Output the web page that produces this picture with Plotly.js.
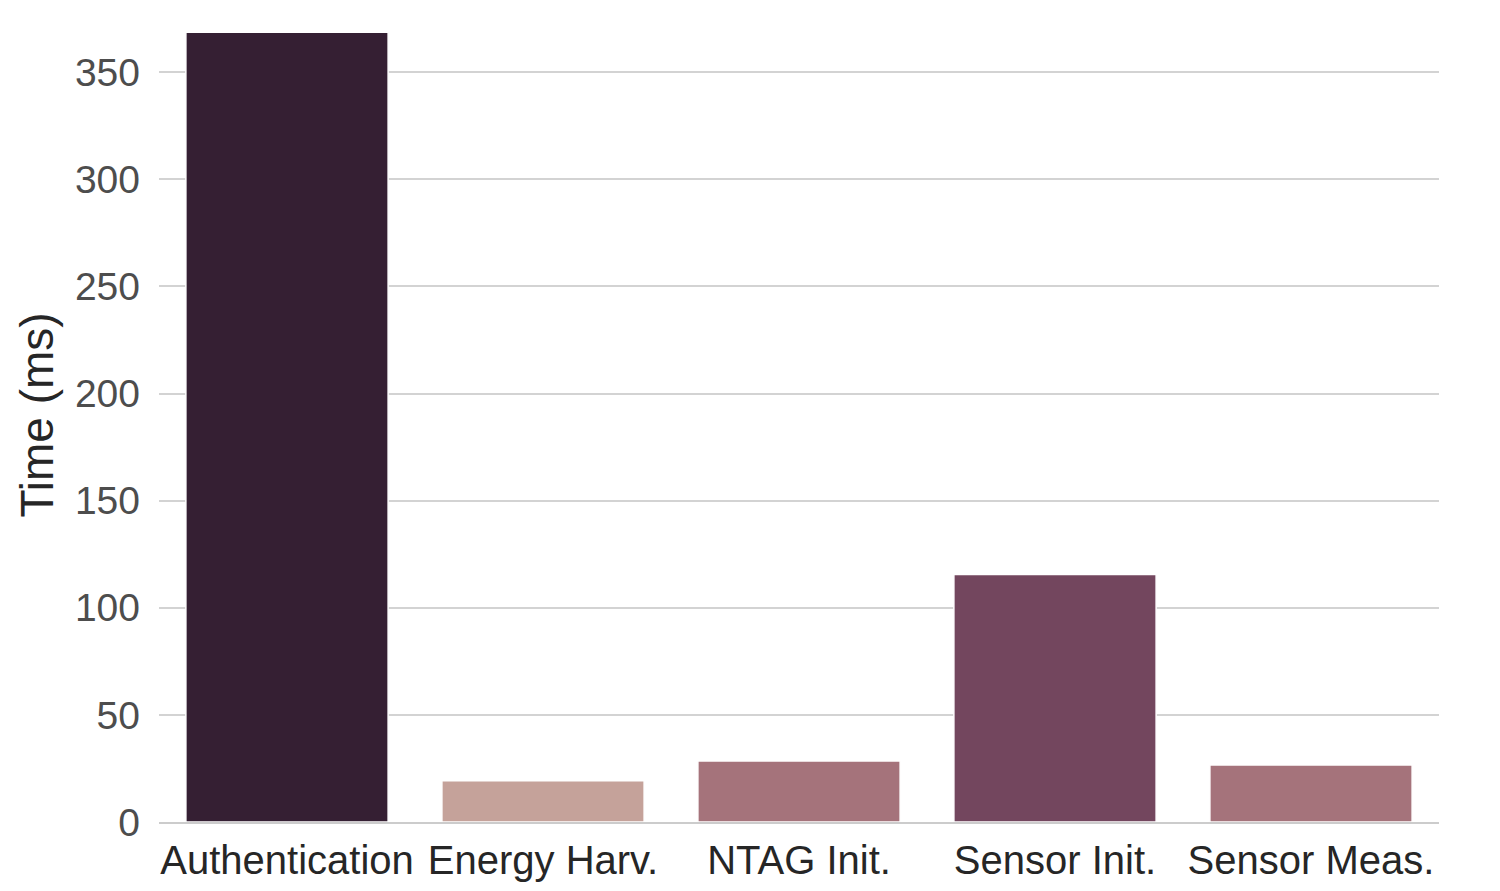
<!DOCTYPE html>
<html>
<head>
<meta charset="utf-8">
<script src="https://cdn.plot.ly/plotly-3.0.1.min.js"></script>
<style>
  html, body { margin: 0; padding: 0; background: #fff; }
  #plot { width: 1500px; height: 891px; }
</style>
</head>
<body>
<div id="plot"></div>
<script>
const stages = ['Authentication', 'Energy Harv.', 'NTAG Init.', 'Sensor Init.', 'Sensor Meas.'];
const timesMs = [368.7, 19.2, 28.5, 115.5, 26.6];
const barColors = ['#351f33', '#c5a29a', '#a5737b', '#73465e', '#a5737b'];
const yTicks = [0, 50, 100, 150, 200, 250, 300, 350];

const trace = {
    type: 'bar',
    x: stages,
    y: timesMs,
    width: 0.79,
    marker: { color: barColors, line: { color: '#ffffff', width: 1.5 } },
    hoverinfo: 'none'
};

const layout = {
    width: 1500,
    height: 891,
    paper_bgcolor: '#ffffff',
    plot_bgcolor: '#ffffff',
    margin: { t: 8, b: 69, l: 159, r: 61 },
    font: { family: 'Liberation Sans, Arial, sans-serif' },
    showlegend: false,
    xaxis: {
        type: 'category',
        range: [-0.5, 4.5],
        showgrid: false,
        showline: true,
        linecolor: '#cccccc',
        linewidth: 2,
        ticks: '',
        ticklabelstandoff: 2,
        tickfont: { size: 40, color: '#262626' },
        fixedrange: true
    },
    yaxis: {
        range: [0, 380],
        tickvals: yTicks,
        ticktext: yTicks.map(String),
        showgrid: true,
        gridcolor: '#d3d3d3',
        gridwidth: 2,
        zeroline: false,
        showline: false,
        ticks: '',
        ticklabelstandoff: 18,
        tickfont: { size: 39, color: '#4d4d4d' },
        title: { text: 'Time (ms)', font: { size: 46, color: '#262626' }, standoff: 6 },
        fixedrange: true
    }
};

Plotly.newPlot('plot', [trace], layout, { displayModeBar: false, staticPlot: true });
</script>
</body>
</html>
